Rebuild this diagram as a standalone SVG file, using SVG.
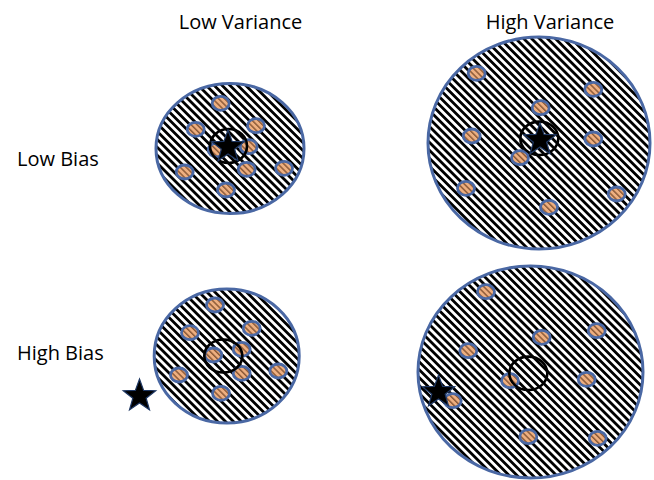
<svg xmlns="http://www.w3.org/2000/svg" xmlns:xlink="http://www.w3.org/1999/xlink" width="654" height="480" viewBox="0 0 654 480">
  <defs>
    <pattern id="hatch" width="5.6" height="5.6" patternUnits="userSpaceOnUse" patternTransform="rotate(-45)">
      <rect width="5.6" height="5.6" fill="#ffffff"/>
      <rect width="2.8" height="5.6" fill="#000000"/>
    </pattern>
    <pattern id="dothatch" width="4.2" height="4.2" patternUnits="userSpaceOnUse" patternTransform="rotate(-45)">
      <rect width="4.2" height="4.2" fill="#eeaf80"/>
      <rect width="1.5" height="4.2" fill="#8c5a38"/>
    </pattern>
    <path id="star" d="M0,-17 L4.11,-5.66 L16.17,-5.25 L6.66,2.16 L9.99,13.75 L0,7 L-9.99,13.75 L-6.66,2.16 L-16.17,-5.25 L-4.11,-5.66 Z"/>
  </defs>
  <style>
    .lbl { font-family: "Open Sans", "Liberation Sans", sans-serif; font-size: 20px; fill: #000000; }
    .field { fill: url(#hatch); stroke: #4a68a4; stroke-width: 3; }
    .dot { fill: url(#dothatch); stroke: #4a68a4; stroke-width: 2.8; }
    .ring { fill: none; stroke: #000000; stroke-width: 2.6; }
    .star { fill: #000000; stroke: #1f3864; stroke-width: 1.2; stroke-linejoin: miter; }
  </style>
  <rect width="654" height="480" fill="#ffffff"/>

  <g id="labels">
    <text class="lbl" x="240.5" y="29" text-anchor="middle">Low Variance</text>
    <text class="lbl" x="550" y="29" text-anchor="middle">High Variance</text>
    <text class="lbl" x="17" y="166">Low Bias</text>
    <text class="lbl" x="17" y="360">High Bias</text>
  </g>

  <g id="low-bias-low-variance">
    <ellipse class="field" cx="230" cy="148.5" rx="74" ry="65"/>
    <ellipse class="dot" cx="220.7" cy="103.3" rx="8.5" ry="7"/>
    <ellipse class="dot" cx="195.7" cy="129.3" rx="8.5" ry="7"/>
    <ellipse class="dot" cx="256" cy="125.7" rx="8.5" ry="7"/>
    <ellipse class="dot" cx="248.7" cy="146.7" rx="8.5" ry="7"/>
    <ellipse class="dot" cx="216.7" cy="150" rx="8.5" ry="7"/>
    <ellipse class="dot" cx="246.7" cy="169.3" rx="8.5" ry="7"/>
    <ellipse class="dot" cx="284" cy="168.3" rx="8.5" ry="7"/>
    <ellipse class="dot" cx="184.7" cy="172" rx="8.5" ry="7"/>
    <ellipse class="dot" cx="226" cy="190" rx="8.5" ry="7"/>
    <ellipse class="ring" cx="228.5" cy="146" rx="18.5" ry="17"/>
    <use xlink:href="#star" class="star" x="228" y="147"/>
  </g>

  <g id="low-bias-high-variance">
    <ellipse class="field" cx="539" cy="143" rx="111" ry="106"/>
    <ellipse class="dot" cx="476.7" cy="73.3" rx="8.5" ry="7"/>
    <ellipse class="dot" cx="593.3" cy="89.3" rx="8.5" ry="7"/>
    <ellipse class="dot" cx="540.7" cy="107.7" rx="8.5" ry="7"/>
    <ellipse class="dot" cx="471.7" cy="136" rx="8.5" ry="7"/>
    <ellipse class="dot" cx="593.3" cy="139" rx="8.5" ry="7"/>
    <ellipse class="dot" cx="520" cy="157.7" rx="8.5" ry="7"/>
    <ellipse class="dot" cx="466" cy="188.3" rx="8.5" ry="7"/>
    <ellipse class="dot" cx="616.7" cy="194" rx="8.5" ry="7"/>
    <ellipse class="dot" cx="549" cy="207.3" rx="8.5" ry="7"/>
    <ellipse class="ring" cx="539.3" cy="138.3" rx="19" ry="16.7"/>
    <use xlink:href="#star" class="star" x="540" y="140"/>
  </g>

  <g id="high-bias-low-variance">
    <ellipse class="field" cx="226.7" cy="356" rx="72.5" ry="67"/>
    <ellipse class="dot" cx="215" cy="305" rx="8.5" ry="7"/>
    <ellipse class="dot" cx="190" cy="332.7" rx="8.5" ry="7"/>
    <ellipse class="dot" cx="251.7" cy="328.3" rx="8.5" ry="7"/>
    <ellipse class="dot" cx="213.3" cy="355" rx="8.5" ry="7"/>
    <ellipse class="dot" cx="241.7" cy="349.3" rx="8.5" ry="7"/>
    <ellipse class="dot" cx="241.7" cy="373.3" rx="8.5" ry="7"/>
    <ellipse class="dot" cx="278.3" cy="371" rx="8.5" ry="7"/>
    <ellipse class="dot" cx="179" cy="375" rx="8.5" ry="7"/>
    <ellipse class="dot" cx="221" cy="393.3" rx="8.5" ry="7"/>
    <ellipse class="ring" cx="223.3" cy="356" rx="19" ry="16.5"/>
    <use xlink:href="#star" class="star" x="139.5" y="396"/>
  </g>

  <g id="high-bias-high-variance">
    <ellipse class="field" cx="530.5" cy="372" rx="112.5" ry="106"/>
    <ellipse class="dot" cx="486" cy="291.7" rx="8.5" ry="7"/>
    <ellipse class="dot" cx="596.7" cy="330.7" rx="8.5" ry="7"/>
    <ellipse class="dot" cx="541.7" cy="337.3" rx="8.5" ry="7"/>
    <ellipse class="dot" cx="468.3" cy="350.7" rx="8.5" ry="7"/>
    <ellipse class="dot" cx="586.7" cy="379.3" rx="8.5" ry="7"/>
    <ellipse class="dot" cx="510" cy="380.7" rx="8.5" ry="7"/>
    <ellipse class="dot" cx="452.7" cy="400.7" rx="8.5" ry="7"/>
    <ellipse class="dot" cx="528.3" cy="436.7" rx="8.5" ry="7"/>
    <ellipse class="dot" cx="597.7" cy="438.3" rx="8.5" ry="7"/>
    <ellipse class="ring" cx="528.3" cy="373.3" rx="19" ry="16.7"/>
    <use xlink:href="#star" class="star" x="438.5" y="392"/>
  </g>
</svg>
